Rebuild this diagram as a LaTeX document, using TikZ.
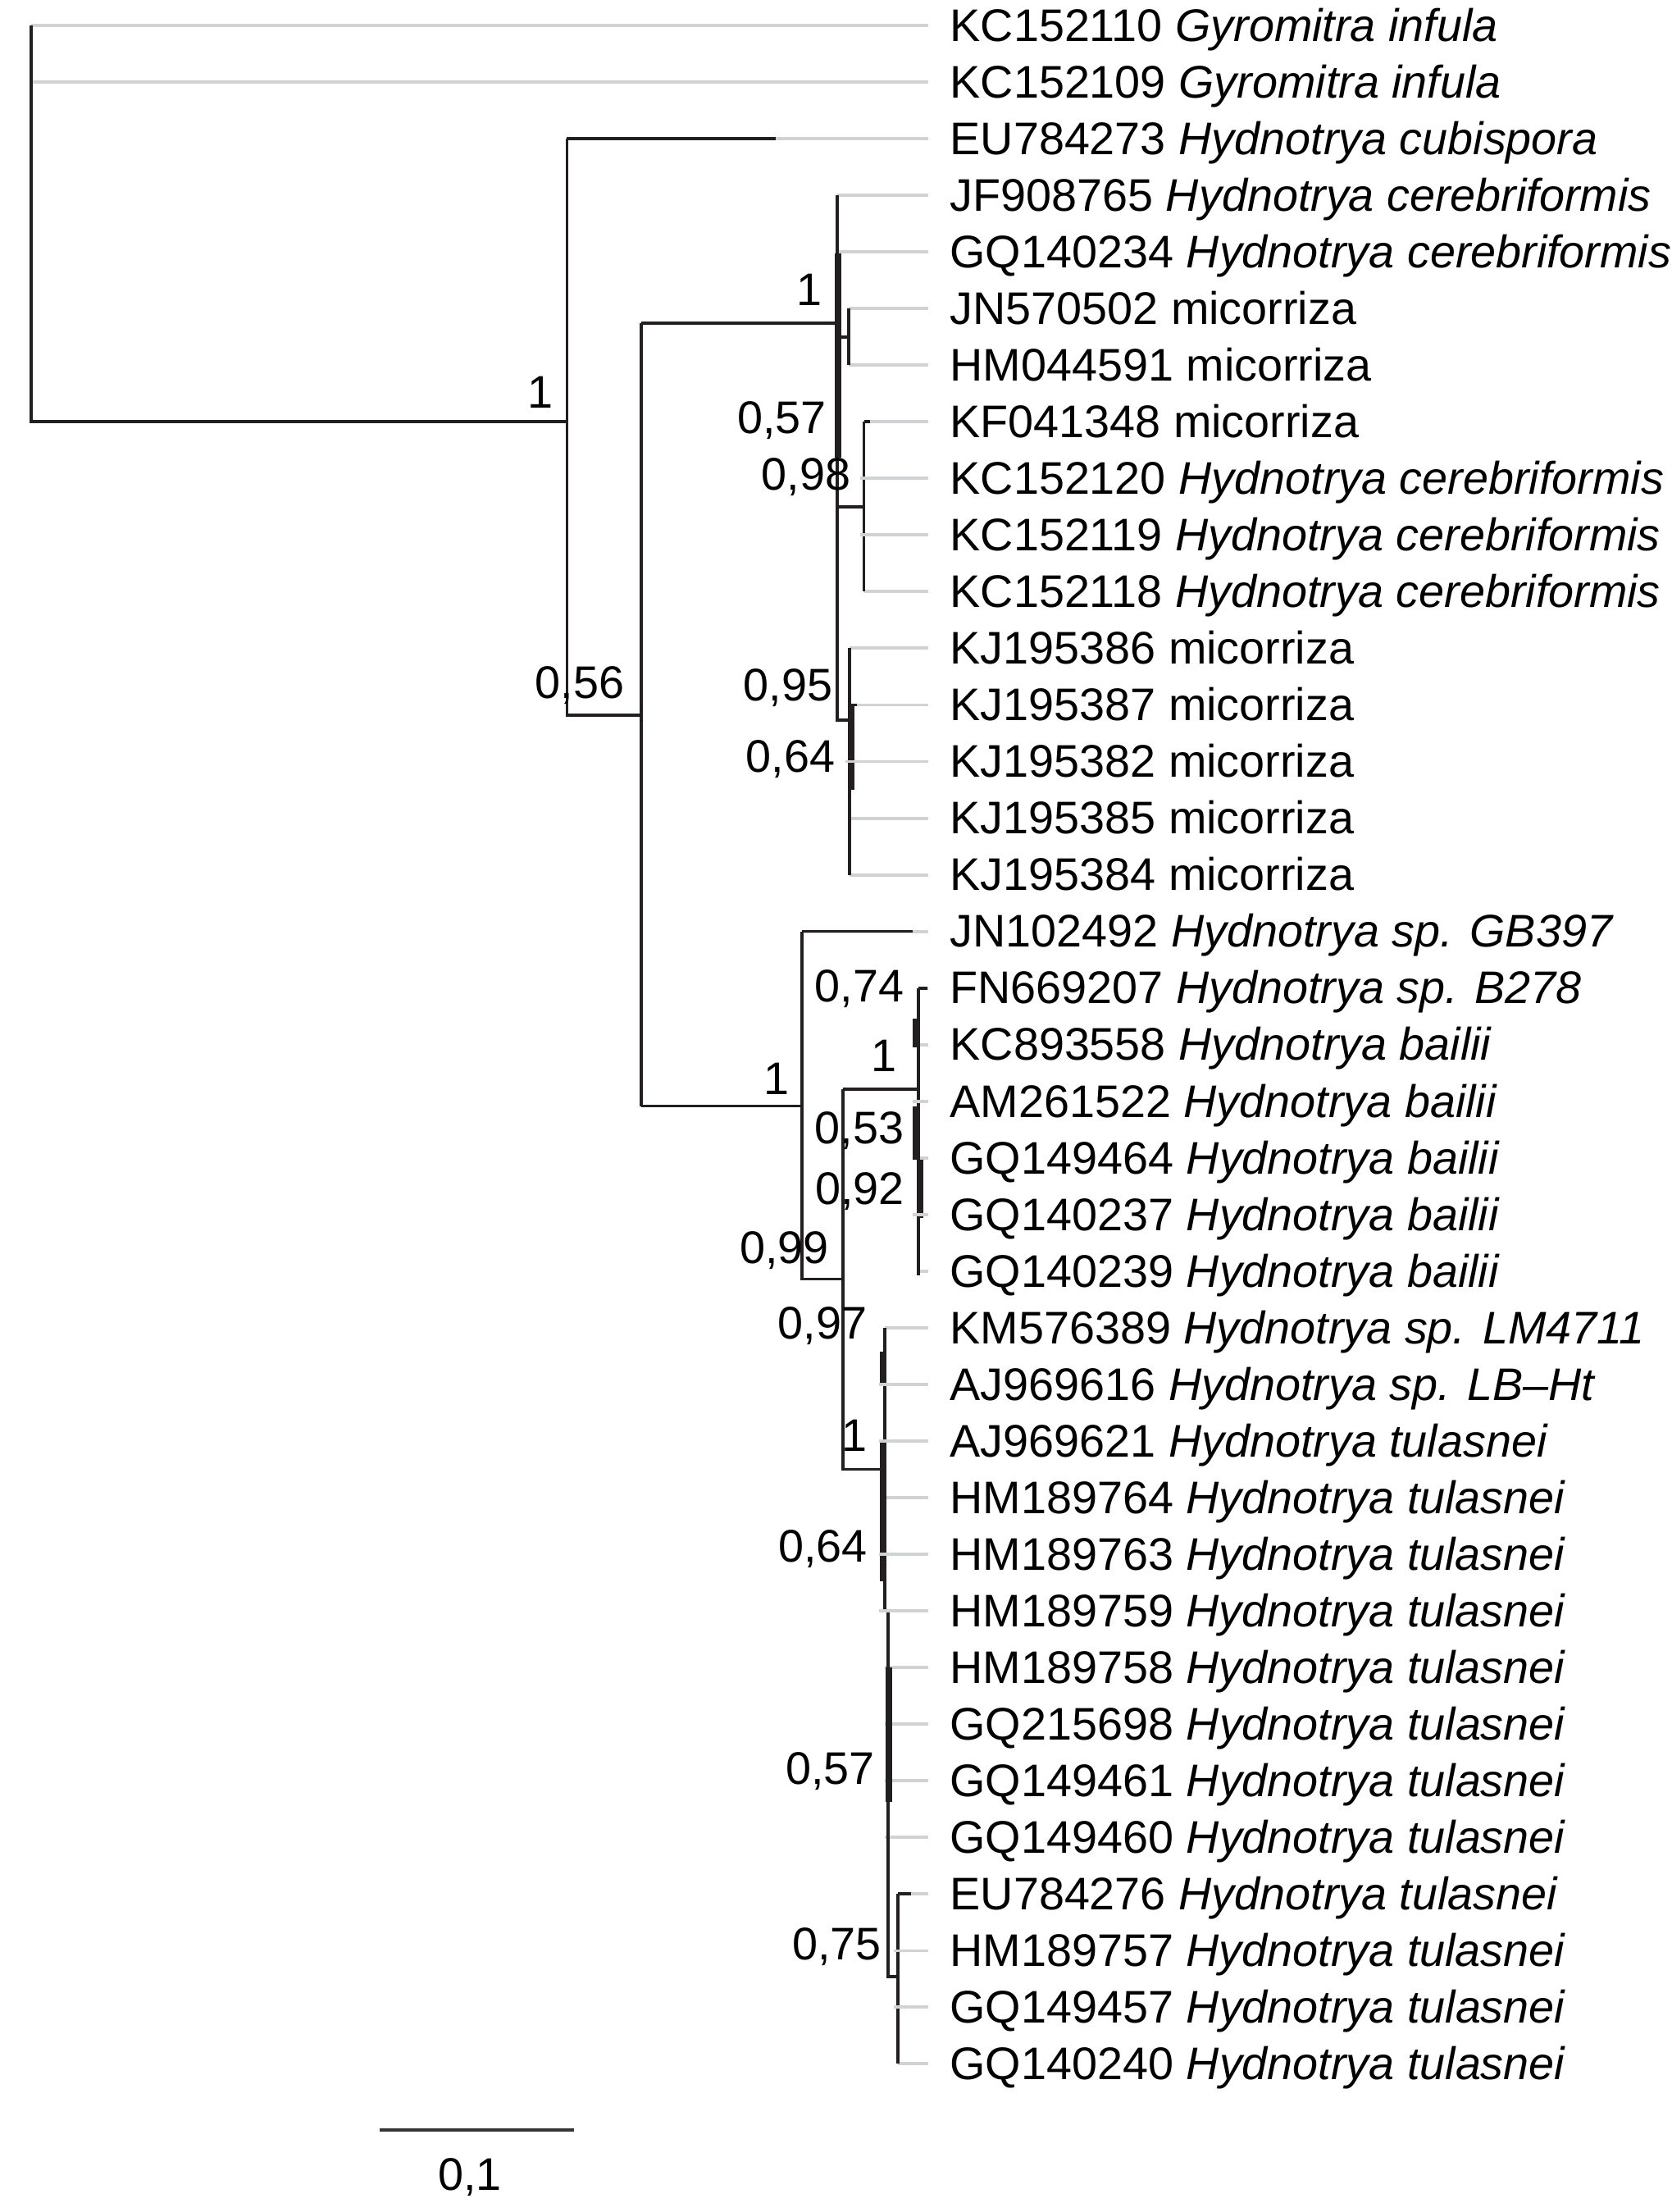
\documentclass[tikz,border=0pt]{standalone}
\usepackage{fontspec}
\setmainfont{Liberation Sans}
\usetikzlibrary{calc}
\definecolor{lineblk}{HTML}{231F20}
\definecolor{leafgrey}{HTML}{D0D2D4}
\begin{document}
\begin{tikzpicture}[x=1pt,y=-1pt,
  br/.style={draw=lineblk,line width=2.2pt},
  thk/.style={draw=lineblk,line width=4.6pt},
  lf/.style={draw=leafgrey,line width=2.3pt},
  lab/.style={anchor=base west,inner sep=0pt,font=\fontsize{32.4}{36}\selectfont},
  supp/.style={anchor=base,inner sep=0pt,font=\fontsize{32.4}{36}\selectfont}]
\useasboundingbox[fill=white] (0,0) rectangle (1185,1568);
% leaf tips
\foreach \i/\y in {0/18.0,1/58.1,2/98.3,3/138.4,4/178.6,5/218.7,6/258.8,7/299.0,8/339.1,9/379.3,10/419.4,11/459.5,12/499.7,13/539.8,14/580.0,15/620.1,16/660.2,17/700.4,18/740.5,19/780.7,20/820.8,21/860.9,22/901.1,23/941.2,24/981.4,25/1021.5,26/1061.6,27/1101.8,28/1141.9,29/1182.1,30/1222.2,31/1262.3,32/1302.5,33/1342.6,34/1382.8,35/1422.9,36/1463.0}
  {\coordinate (t\i) at (658,\y);}
% internal nodes
\coordinate (R) at (22,298.8);
\coordinate (A) at (402,298.8);
\coordinate (B) at (454.5,506.8);
\coordinate (C) at (593.5,229);
\coordinate (JH) at (601.5,238.8);
\coordinate (KK) at (612.5,359.2);
\coordinate (KJ) at (602.2,510.3);
\coordinate (D) at (568.6,784);
\coordinate (E) at (597.6,906.6);
\coordinate (F) at (651,772.3);
\coordinate (G) at (627.3,1041.5);
\coordinate (G2) at (629.6,1142);
\coordinate (H) at (636.4,1401);
\coordinate (eu) at (550,98.3);
\coordinate (jn) at (647,660.2);
\coordinate (fend) at (651,904);
% grey leaf lines
\draw[lf] (R|-t0) -- (t0);
\draw[lf] (R|-t1) -- (t1);
\draw[lf] (A|-t2) -- (t2);
\foreach \i in {3,4} {\draw[lf] (C|-t\i) -- (t\i);}
\foreach \i in {5,6} {\draw[lf] (JH|-t\i) -- (t\i);}
\foreach \i in {7,8,9,10} {\draw[lf] (KK|-t\i) -- (t\i);}
\foreach \i in {11,12,13,14,15} {\draw[lf] (KJ|-t\i) -- (t\i);}
\draw[lf] (D|-t16) -- (t16);
\foreach \i in {17,18,19,20,21,22} {\draw[lf] (F|-t\i) -- (t\i);}
\foreach \i in {23,24,25,26,27,28,29,30,31,32} {\draw[lf] (G|-t\i) -- (t\i);}
\foreach \i in {33,34,35,36} {\draw[lf] (H|-t\i) -- (t\i);}
% branches
\draw[br] (R|-t0) -- (R) -- (A);
\draw[br] (A|-t2) -- (A|-B) -- (B);
\draw[br] (A|-t2) -- (eu);
\draw[br] (B|-C) -- (B|-D);
\draw[br] (B|-C) -- (C);
\draw[br] (B|-D) -- (D);
% cerebriformis / micorriza clade
\draw[br] (C|-t3) -- (C|-KJ) -- (KJ);
\draw[thk] (594.4,179.4) -- (594.4,324.7);
\draw[br] (C|-JH) -- (JH);
\draw[br] (JH|-t5) -- (JH|-t6);
\draw[br] (C|-KK) -- (KK);
\draw[br] (KK|-t7) -- (KK|-t10);
\draw[br] (KK|-t7) -- ++(4.5,0);
\draw[br] (KJ|-t11) -- (KJ|-t15);
\draw[thk] (603.4,499.6) -- (603.4,559.6);
\draw[br] (KJ|-t12) -- ++(5.6,0);
% second clade
\draw[br] (D|-t16) -- (D|-E) -- (E);
\draw[br] (D|-t16) -- (jn);
\draw[br] (E|-F) -- (E|-G) -- (G);
\draw[br] (E|-F) -- (F);
\draw[br] (F|-t17) -- (fend);
\draw[br] (F|-t17) -- ++(6.7,0);
\draw[thk] (649.5,721.8) -- (649.5,742.2);
\draw[thk] (649.5,784) -- (649.5,821.8);
\draw[thk] (652.5,821.8) -- (652.5,863.6);
% tulasnei group
\draw[br] (G|-t23) -- (G|-G2);
\draw[br] (G2) -- (G2|-H) -- (H);
\draw[thk] (626,957.9) -- (626,980.6);
\draw[thk] (626,1022.4) -- (626,1121);
\draw[thk] (630,1181.8) -- (630,1277.4);
\draw[br] (H|-t33) -- (H|-t36);
\draw[br] (H|-t33) -- ++(9.6,0);
% grey crossings over verticals
\foreach \i in {8,9} {\draw[lf] ($(KK|-t\i)+(-2.5,0)$) -- (t\i);}
\foreach \i in {13} {\draw[lf] ($(KJ|-t\i)+(-3,0)$) -- (t\i);}
\foreach \i in {19,21} {\draw[lf] ($(F|-t\i)+(-4,0)$) -- (t\i);}
\foreach \i in {24,25,27,28} {\draw[lf] ($(G|-t\i)+(-4,0)$) -- (t\i);}
\foreach \i in {34,35} {\draw[lf] ($(H|-t\i)+(-2.5,0)$) -- (t\i);}
% leaf labels
\foreach \i/\txt in {0/KC152110 \textit{Gyromitra infula},1/KC152109 \textit{Gyromitra infula},2/EU784273 \textit{Hydnotrya cubispora},3/JF908765 \textit{Hydnotrya cerebriformis},4/GQ140234 \textit{Hydnotrya cerebriformis},5/JN570502 micorriza,6/HM044591 micorriza,7/KF041348 micorriza,8/KC152120 \textit{Hydnotrya cerebriformis},9/KC152119 \textit{Hydnotrya cerebriformis},10/KC152118 \textit{Hydnotrya cerebriformis},11/KJ195386 micorriza,12/KJ195387 micorriza,13/KJ195382 micorriza,14/KJ195385 micorriza,15/KJ195384 micorriza,16/JN102492 \textit{Hydnotrya sp. GB397},17/FN669207 \textit{Hydnotrya sp. B278},18/KC893558 \textit{Hydnotrya bailii},19/AM261522 \textit{Hydnotrya bailii},20/GQ149464 \textit{Hydnotrya bailii},21/GQ140237 \textit{Hydnotrya bailii},22/GQ140239 \textit{Hydnotrya bailii},23/KM576389 \textit{Hydnotrya sp. LM4711},24/AJ969616 \textit{Hydnotrya sp. LB–Ht},25/AJ969621 \textit{Hydnotrya tulasnei},26/HM189764 \textit{Hydnotrya tulasnei},27/HM189763 \textit{Hydnotrya tulasnei},28/HM189759 \textit{Hydnotrya tulasnei},29/HM189758 \textit{Hydnotrya tulasnei},30/GQ215698 \textit{Hydnotrya tulasnei},31/GQ149461 \textit{Hydnotrya tulasnei},32/GQ149460 \textit{Hydnotrya tulasnei},33/EU784276 \textit{Hydnotrya tulasnei},34/HM189757 \textit{Hydnotrya tulasnei},35/GQ149457 \textit{Hydnotrya tulasnei},36/GQ140240 \textit{Hydnotrya tulasnei}}
  {\node[lab] (L\i) at ($(t\i)+(15.4,11.2)$) {\txt};}
% support values
\node[supp] (s1) at (383,289.5) {1};
\node[supp] (s2) at (411,495) {0,56};
\node[supp] (s3) at (574,216.5) {1};
\node[supp] (s4) at (554.4,307.5) {0,57};
\node[supp] (s5) at (571.6,347.5) {0,98};
\node[supp] (s6) at (558.8,496.5) {0,95};
\node[supp] (s7) at (560.5,547.5) {0,64};
\node[supp] (s8) at (550.7,776) {1};
\node[supp] (s9) at (609.2,710) {0,74};
\node[supp] (s10) at (626.7,759.5) {1};
\node[supp] (s11) at (609.2,811) {0,53};
\node[supp] (s12) at (609.7,853.5) {0,92};
\node[supp] (s13) at (556,895.5) {0,99};
\node[supp] (s14) at (583,949) {0,97};
\node[supp] (s15) at (605.9,1028.8) {1};
\node[supp] (s16) at (583.5,1107.2) {0,64};
\node[supp] (s17) at (588.6,1264.8) {0,57};
\node[supp] (s18) at (593.3,1389.3) {0,75};
% scale bar
\coordinate (sb1) at (269.2,1509.7);
\coordinate (sb2) at (406.8,1509.7);
\draw[draw=lineblk!90!white,line width=2.6pt] (sb1) -- (sb2);
\node[supp] (sbl) at (333,1552.5) {0,1};
\end{tikzpicture}
\end{document}
